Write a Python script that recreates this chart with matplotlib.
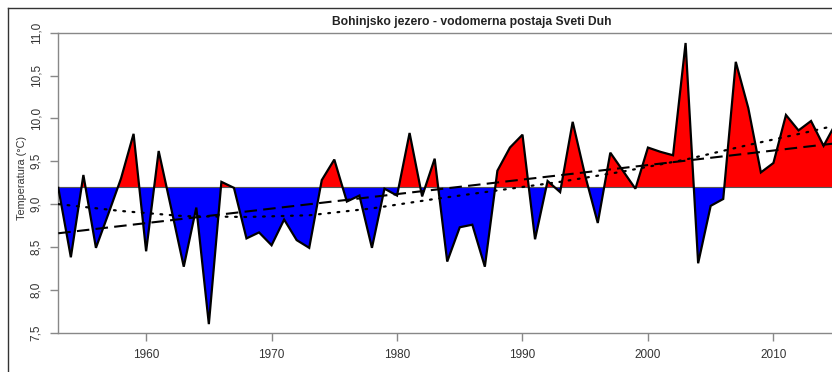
import matplotlib
matplotlib.use("Agg")
import matplotlib.pyplot as plt
from matplotlib.lines import Line2D
import numpy as np

plt.rcParams['font.family'] = ['Liberation Sans', 'DejaVu Sans']

# ---- data ----
years = list(range(1953, 2016))
temps = [9.19, 8.38, 9.34, 8.49, 8.89, 9.30, 9.82, 8.45, 9.62, 8.95,
         8.27, 8.96, 7.60, 9.26, 9.19, 8.60, 8.67, 8.52, 8.82, 8.58,
         8.49, 9.28, 9.52, 9.03, 9.10, 8.49, 9.18, 9.10, 9.83, 9.09,
         9.53, 8.33, 8.73, 8.76, 8.27, 9.39, 9.66, 9.81, 8.59, 9.27,
         9.14, 9.96, 9.33, 8.78, 9.60, 9.39, 9.18, 9.66, 9.61, 9.57,
         10.88, 8.31, 8.98, 9.06, 10.66, 10.12, 9.37, 9.48, 10.04, 9.86,
         9.97, 9.68, 9.95]
baseline = 9.2

linear_years = [1953, 2015]
linear_vals = [8.66, 9.71]

smooth_years = [1953, 1958, 1963, 1968, 1973, 1978, 1983, 1988, 1993,
                1998, 2003, 2008, 2013, 2015]
smooth_vals = [9.00, 8.92, 8.86, 8.85, 8.87, 8.95, 9.06, 9.16, 9.26,
               9.38, 9.52, 9.69, 9.85, 9.92]

xticks = [1960, 1970, 1980, 1990, 2000, 2010]
yticks = [7.5, 8.0, 8.5, 9.0, 9.5, 10.0, 10.5, 11.0]
ytick_labels = ["7,5", "8,0", "8,5", "9,0", "9,5", "10,0", "10,5", "11,0"]

title = "Bohinjsko jezero - vodomerna postaja Sveti Duh"
ylabel = "Temperatura (°C)"

# ---- figure ----
W, H = 832, 372
fig = plt.figure(figsize=(W / 100, H / 100), dpi=100)
left, top, bottom = 58.3, 32.7, 332.7
ax = fig.add_axes([left / W, 1 - bottom / H, (W - left) / W, (bottom - top) / H])

x = np.array(years, dtype=float)
y = np.array(temps)
ax.fill_between(x, y, baseline, where=y >= baseline, interpolate=True,
                color='#ff0000', linewidth=0, zorder=2)
ax.fill_between(x, y, baseline, where=y <= baseline, interpolate=True,
                color='#0000ff', linewidth=0, zorder=2)
ax.axhline(baseline, color='#555555', lw=0.8, zorder=3)
ax.plot(x, y, color='black', lw=1.6, zorder=5, solid_joinstyle='miter')

ax.plot(linear_years, linear_vals, color='black', lw=1.5,
        linestyle=(0, (6, 3)), zorder=4)
ax.plot(smooth_years, smooth_vals, color='black', lw=1.6,
        linestyle=(0, (0.8, 3.4)), zorder=4, dash_capstyle='round')

ax.set_xlim(1953.0, 2014.67)
ax.set_ylim(7.5, 11.0)

for s in ['left', 'top', 'bottom']:
    ax.spines[s].set_color('#888888')
    ax.spines[s].set_linewidth(1.0)
ax.spines['right'].set_visible(False)

ax.set_xticks(xticks)
ax.set_xticklabels([str(t) for t in xticks])
ax.set_yticks(yticks)
ax.set_yticklabels(ytick_labels, rotation=90, va='center')
ax.tick_params(axis='both', colors='#888888', length=5.5, width=1.0,
               labelcolor='#333333', labelsize=8.5)
ax.tick_params(axis='x', pad=6.5)
ax.tick_params(axis='y', pad=6.0)

fig.text(21.7 / W, 1 - 178 / H, ylabel, rotation=90, ha='center', va='center',
         fontsize=7.8, color='#333333')
fig.text(471.7 / W, 1 - 21.5 / H, title, ha='center', va='center',
         fontsize=8.7, fontweight='bold', color='#222222')

# outer frame (cropped)
fig.add_artist(Line2D([8 / W, 1], [1 - 8 / H, 1 - 8 / H], color='#333333', lw=1.0,
                      transform=fig.transFigure))
fig.add_artist(Line2D([8 / W, 8 / W], [0, 1 - 8 / H], color='#333333', lw=1.0,
                      transform=fig.transFigure))

fig.savefig("out.png", dpi=100)
